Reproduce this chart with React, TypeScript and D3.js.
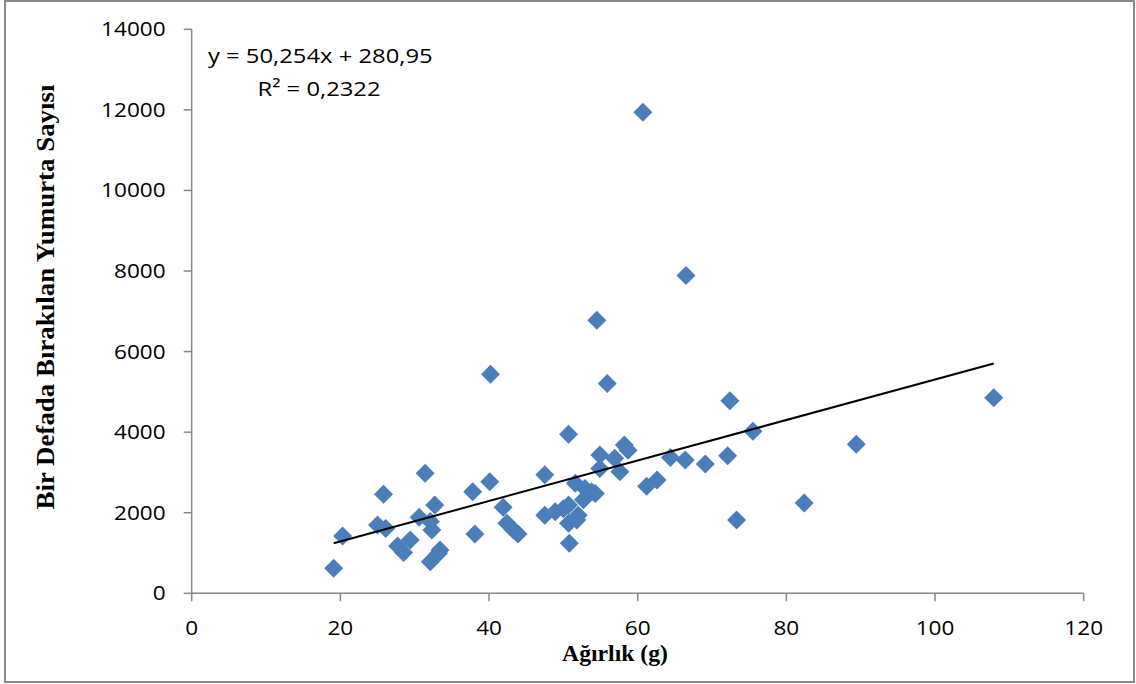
import React from "react";
import * as d3 from "d3";

const weights = [
  19.1, 20.3, 25.0, 25.8, 26.1, 27.7, 28.5, 29.4, 30.6, 31.4, 32.1, 32.3, 32.1, 32.7, 33.2, 33.4,
  37.8, 38.1, 40.1, 40.2, 41.9, 42.4, 43.3, 43.9, 47.5, 47.5, 48.9, 50.0, 50.7, 50.7, 52.0, 50.7,
  51.8, 50.8, 51.6, 52.7, 52.9, 53.8, 54.3, 54.9, 54.9, 54.5, 55.9, 56.9, 57.6, 58.2, 58.7, 60.7,
  61.2, 62.6, 64.4, 66.4, 66.5, 69.1, 72.1, 72.4, 73.3, 75.5, 82.4, 89.4, 107.9,
];
const eggs = [
  620, 1420, 1695, 2460, 1610, 1175, 1010, 1320, 1885, 2980, 1780, 1570, 785, 2190, 995, 1075,
  2520, 1470, 2770, 5440, 2135, 1740, 1570, 1470, 2940, 1940, 2025, 2100, 3950, 2190, 1940, 1740,
  1820, 1240, 2730, 2320, 2600, 2520, 2480, 3430, 3100, 6780, 5210, 3350, 3020, 3680, 3550, 11940,
  2660, 2810, 3370, 3310, 7890, 3210, 3415, 4780, 1820, 4020, 2240, 3700, 4855,
];
const xTicks = [0, 20, 40, 60, 80, 100, 120];
const yTicks = [0, 2000, 4000, 6000, 8000, 10000, 12000, 14000];
const slope = 50.254;
const intercept = 280.95;
const equationText = "y = 50,254x + 280,95";
const r2Text = "R² = 0,2322";
const xTitle = "Ağırlık (g)";
const yTitle = "Bir Defada Bırakılan Yumurta Sayısı";

const W = 1136;
const H = 684;
const x = d3.scaleLinear().domain([0, 120]).range([191.7, 1083.7]);
const y = d3.scaleLinear().domain([0, 14000]).range([593.3, 29.3]);

const tickFont = "'Open Sans', sans-serif";
const serif = "'Liberation Serif', 'Times New Roman', serif";
const axisColor = "#868686";
const pointColor = "#4a7ebb";

export default function App() {
  const xMin = d3.min(weights) as number;
  const xMax = d3.max(weights) as number;
  const line = d3.line<number>().x((d) => x(d)).y((d) => y(slope * d + intercept));
  const diamond = d3.symbol().type(d3.symbolDiamond2).size(230)();
  return (
    <svg width={W} height={H} style={{ position: "absolute", left: 0, top: 0, background: "#fff" }}>
      <rect x={5} y={1} width={1129} height={681} fill="#fff" stroke="#888" strokeWidth={2} />
      <line x1={x(0)} x2={x(120)} y1={y(0)} y2={y(0)} stroke={axisColor} strokeWidth={1.5} />
      <line x1={x(0)} x2={x(0)} y1={y(0)} y2={y(14000)} stroke={axisColor} strokeWidth={1.5} />
      {yTicks.map((t) => (
        <g key={"y" + t}>
          <line x1={x(0) - 8} x2={x(0)} y1={y(t)} y2={y(t)} stroke={axisColor} strokeWidth={1.5} />
          <text
            transform={`translate(${x(0) - 26},${y(t) + 7}) scale(1.13,1)`}
            textAnchor="end"
            fontFamily={tickFont}
            fontSize={20}
            fill="#000"
          >
            {t}
          </text>
        </g>
      ))}
      {xTicks.map((t) => (
        <g key={"x" + t}>
          <line x1={x(t)} x2={x(t)} y1={y(0)} y2={y(0) + 8} stroke={axisColor} strokeWidth={1.5} />
          <text
            transform={`translate(${x(t)},${635}) scale(1.13,1)`}
            textAnchor="middle"
            fontFamily={tickFont}
            fontSize={20}
            fill="#000"
          >
            {t}
          </text>
        </g>
      ))}
      {weights.map((w, i) => (
        <path key={i} d={diamond} transform={`translate(${x(w)},${y(eggs[i])})`} fill={pointColor} />
      ))}
      <path d={line([xMin, xMax]) || ""} stroke="#000" strokeWidth={2} fill="none" />
      <text
        transform={`translate(208,63) scale(1.19,1)`}
        fontFamily={tickFont}
        fontSize={20}
        fill="#000"
      >
        {equationText}
      </text>
      <text
        transform={`translate(319,96) scale(1.19,1)`}
        textAnchor="middle"
        fontFamily={tickFont}
        fontSize={20}
        fill="#000"
      >
        {r2Text}
      </text>
      <text
        transform={`translate(615,661) scale(1.03,1)`}
        textAnchor="middle"
        fontFamily={serif}
        fontWeight="bold"
        fontSize={23}
        fill="#000"
      >
        {xTitle}
      </text>
      <text
        transform={`translate(54,297) rotate(-90)`}
        textAnchor="middle"
        fontFamily={serif}
        fontWeight="bold"
        fontSize={26}
        textLength={425}
        lengthAdjust="spacingAndGlyphs"
        fill="#000"
      >
        {yTitle}
      </text>
    </svg>
  );
}
